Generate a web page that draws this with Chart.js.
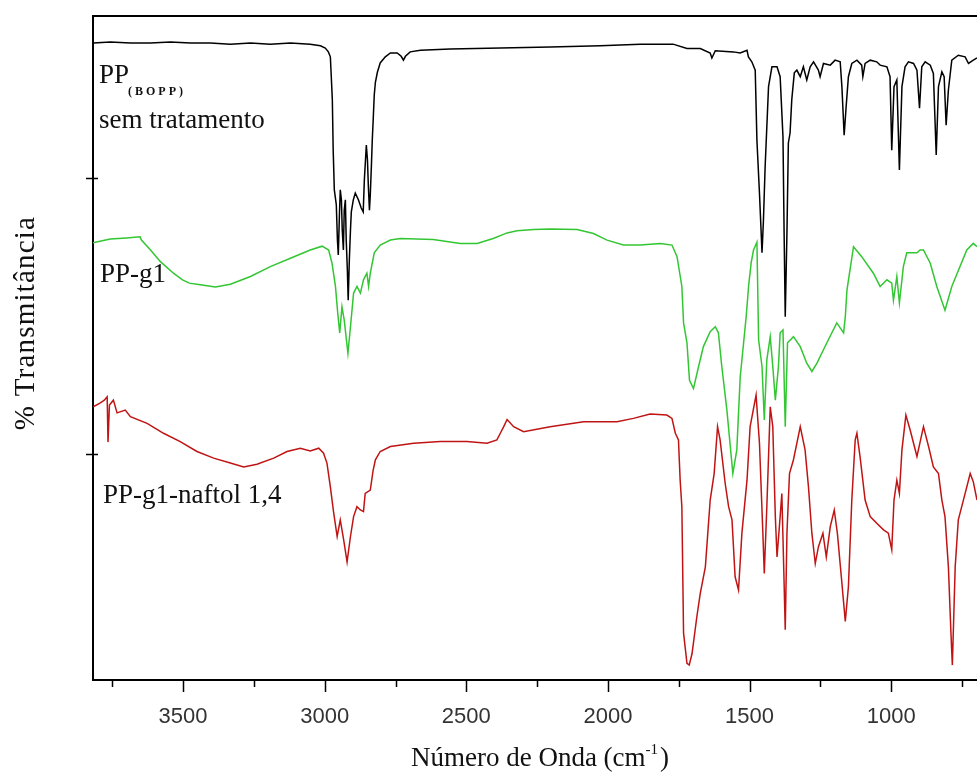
<!DOCTYPE html>
<html>
<head>
<meta charset="utf-8">
<title>Espectros FTIR - PP</title>
<script src="https://cdn.jsdelivr.net/npm/chart.js@4.4.1/dist/chart.umd.min.js"></script>
<style>
  html, body { margin: 0; padding: 0; background: #fff; }
  #wrap { width: 977px; height: 776px; }
</style>
</head>
<body>
<div id="wrap"><canvas id="irChart" width="977" height="776"></canvas></div>
<script>
// wavenumbers (cm-1) and % transmittance (arbitrary offset units)
const boppWave = [3817,3757,3686,3615,3545,3474,3404,3333,3262,3192,3121,3051,3015,2998,2987,2980,2977,2973,2970,2966,2959,2955,2952,2948,2945,2941,2938,2934,2931,2927,2924,2920,2917,2913,2909,2906,2899,2892,2881,2871,2864,2860,2853,2849,2846,2842,2839,2835,2832,2828,2825,2821,2814,2804,2786,2768,2744,2730,2722,2715,2698,2662,2557,2380,2204,2027,1886,1770,1721,1674,1639,1633,1621,1557,1533,1509,1504,1492,1480,1474,1465,1456,1451,1445,1433,1421,1403,1392,1382,1378,1374,1368,1363,1357,1351,1342,1333,1321,1310,1298,1286,1274,1257,1251,1239,1215,1198,1180,1174,1166,1159,1151,1139,1121,1104,1100,1092,1074,1051,1039,1015,1004,998,990,980,971,962,951,939,921,909,900,892,880,862,851,841,833,821,813,806,798,786,763,739,727,710,697];
const boppT = [115.4,115.6,115.4,115.4,115.6,115.4,115.4,115.2,115.4,115.2,115.4,115.2,114.9,114.5,113.8,112.9,109.6,105.1,96.0,88.8,86.1,79.7,77.0,84.2,88.8,87.0,81.5,77.9,85.1,87.0,79.7,74.3,68.8,76.1,81.5,84.8,87.0,88.2,87.0,85.5,84.8,90.6,96.9,94.2,89.7,85.1,87.9,93.3,97.8,102.4,106.0,108.3,110.1,111.8,112.9,113.6,113.6,113.0,112.3,113.0,113.8,114.1,114.3,114.5,114.7,114.9,115.2,115.2,114.4,114.4,113.6,112.7,114.0,113.8,113.6,114.1,112.9,112.0,110.5,97.8,88.2,77.4,83.3,93.0,107.5,111.1,111.1,109.3,98.4,81.0,65.8,81.0,97.3,99.1,105.1,110.0,110.5,109.3,111.1,108.7,111.1,112.0,110.5,109.3,111.7,111.4,112.3,112.0,107.5,98.7,103.9,109.3,111.7,112.3,111.4,109.3,111.7,112.3,112.0,111.4,111.1,109.3,96.0,107.5,108.7,92.4,107.5,111.1,112.0,111.7,110.5,103.6,111.1,112.0,111.4,109.9,95.1,107.5,110.2,109.3,100.5,106.9,112.3,113.2,112.9,111.7,112.3,112.7];

const g1Wave = [3818,3757,3700,3652,3647,3615,3580,3534,3502,3478,3439,3386,3333,3262,3192,3121,3051,3009,2986,2974,2962,2954,2947,2939,2931,2918,2909,2898,2886,2874,2863,2851,2845,2839,2825,2804,2768,2733,2617,2521,2462,2405,2356,2321,2263,2204,2109,2051,2003,1945,1886,1815,1774,1756,1739,1733,1721,1712,1698,1680,1663,1639,1621,1610,1598,1580,1559,1545,1533,1521,1512,1503,1494,1486,1474,1468,1456,1448,1439,1427,1418,1409,1398,1392,1382,1374,1366,1345,1321,1298,1280,1262,1227,1192,1168,1162,1156,1133,1104,1063,1039,1015,998,992,980,971,957,945,909,898,886,862,839,810,786,757,733,710,697];
const g1T = [79.2,79.9,80.1,80.3,79.7,77.9,75.8,73.7,72.5,71.9,71.6,71.2,71.7,73.1,74.9,76.4,77.9,78.6,77.9,75.5,71.3,66.5,62.9,67.6,65.2,59.2,64.0,70.1,71.3,70.1,72.5,73.7,71.3,73.7,77.4,78.8,79.7,80.0,79.8,79.1,79.1,80.0,81.0,81.4,81.6,81.7,81.6,80.9,79.7,78.8,78.8,79.1,78.8,76.7,71.3,64.7,61.1,54.3,52.8,56.8,60.4,63.1,64.0,62.9,56.8,48.9,37.4,41.7,54.9,61.1,65.8,71.6,75.7,77.9,79.3,61.6,56.8,47.1,58.0,62.2,56.8,50.7,56.8,62.9,63.4,45.9,61.1,62.2,60.4,57.4,55.9,57.4,61.1,64.7,62.9,65.8,70.7,78.5,76.7,73.7,71.3,72.5,71.9,68.8,73.1,68.3,74.9,77.4,77.4,77.9,77.9,75.5,71.3,67.0,71.3,74.9,77.9,79.1,78.5];

const naftolWave = [3817,3792,3778,3768,3765,3760,3746,3733,3704,3686,3627,3569,3510,3451,3392,3333,3286,3239,3180,3133,3086,3051,3021,3004,2992,2980,2968,2956,2945,2933,2921,2909,2898,2886,2874,2863,2857,2839,2829,2821,2804,2768,2686,2592,2498,2427,2392,2380,2368,2356,2333,2298,2204,2086,1968,1910,1851,1792,1774,1762,1751,1745,1739,1733,1721,1713,1703,1686,1674,1656,1639,1625,1613,1604,1586,1574,1562,1551,1539,1527,1509,1498,1477,1465,1453,1448,1439,1427,1418,1409,1403,1392,1386,1378,1374,1368,1359,1345,1321,1304,1292,1280,1268,1257,1241,1229,1215,1201,1190,1176,1162,1151,1139,1127,1121,1110,1092,1074,1051,1027,1010,998,990,980,971,962,948,933,909,886,868,851,833,821,810,798,789,784,774,763,745,721,710,697];
const naftolT = [49.5,50.2,50.7,51.3,43.1,49.8,50.7,48.4,48.9,47.7,46.5,44.7,43.2,41.4,40.2,39.3,38.6,39.1,40.2,41.4,42.0,41.5,42.0,41.1,39.3,35.0,30.2,26.0,29.0,25.4,21.4,26.0,29.6,31.4,30.8,30.5,33.8,34.4,38.0,39.9,41.4,42.3,42.9,43.2,43.2,42.9,43.5,44.7,45.9,47.2,45.9,45.0,45.9,46.8,46.8,47.4,48.2,48.0,47.4,44.7,43.5,36.2,31.4,8.5,3.0,2.7,4.8,11.5,15.7,20.5,32.6,37.4,45.9,43.5,35.6,31.4,29.0,18.7,16.3,26.6,36.2,45.9,51.6,42.9,26.6,19.3,31.4,49.5,45.9,29.6,22.3,29.6,33.8,17.5,9.1,26.6,37.4,39.9,45.9,41.7,35.0,26.6,21.1,24.1,26.6,22.3,27.8,30.8,26.6,18.7,10.6,16.9,32.6,43.5,44.7,40.5,32.6,29.6,28.4,27.2,26.6,23.6,32.6,36.2,33.8,41.7,48.0,45.3,40.5,45.9,42.3,38.6,37.4,32.6,29.6,20.5,8.5,2.7,20.5,29.0,32.6,37.4,35.9,32.6];

const xTickLabels = [3500, 3000, 2500, 2000, 1500, 1000];
const xMinorTicks = [3750, 3250, 2750, 2250, 1750, 1250, 750];
const yTicks = [41, 91];

function toPoints(wave, t) {
    return wave.map((w, i) => ({ x: w, y: t[i] }));
}

const serif = '"Liberation Serif", "Times New Roman", serif';

const decor = {
    id: 'decor',
    afterDraw(chart) {
        const { ctx, chartArea: a, scales: { x, y } } = chart;
        ctx.save();
        ctx.strokeStyle = '#000';
        ctx.lineWidth = 2;
        ctx.beginPath();
        ctx.moveTo(a.left - 1, a.top);
        ctx.lineTo(a.right, a.top);
        ctx.stroke();

        ctx.lineWidth = 1.5;
        ctx.beginPath();
        xTickLabels.forEach(v => {
            const px = Math.round(x.getPixelForValue(v)) + 0.5;
            ctx.moveTo(px, a.bottom);
            ctx.lineTo(px, a.bottom + 12);
        });
        xMinorTicks.forEach(v => {
            const px = Math.round(x.getPixelForValue(v)) + 0.5;
            ctx.moveTo(px, a.bottom);
            ctx.lineTo(px, a.bottom + 7);
        });
        yTicks.forEach(v => {
            const py = Math.round(y.getPixelForValue(v)) + 0.5;
            ctx.moveTo(a.left - 7, py);
            ctx.lineTo(a.left + 5, py);
        });
        ctx.stroke();

        // curve labels
        ctx.fillStyle = '#111';
        ctx.textBaseline = 'alphabetic';
        ctx.textAlign = 'left';
        ctx.font = '27px ' + serif;
        ctx.fillText('PP', 99, 83);
        ctx.fillText('sem tratamento', 99, 128);
        ctx.fillText('PP-g1', 100, 282);
        ctx.fillText('PP-g1-naftol 1,4', 103, 503);
        ctx.font = 'bold 12px ' + serif;
        ctx.letterSpacing = '3px';
        ctx.fillText('(BOPP)', 128, 95);

        // y title
        ctx.save();
        ctx.translate(34, 323);
        ctx.rotate(-Math.PI / 2);
        ctx.font = '29px ' + serif;
        ctx.letterSpacing = '1.2px';
        ctx.textAlign = 'center';
        ctx.fillText('% Transmitância', 0, 0);
        ctx.restore();

        // x title with superscript
        ctx.letterSpacing = '0px';
        ctx.font = '27px ' + serif;
        const main = 'Número de Onda (cm';
        const sup = '-1';
        const close = ')';
        const wMain = ctx.measureText(main).width;
        const wClose = ctx.measureText(close).width;
        ctx.font = '15px ' + serif;
        const wSup = ctx.measureText(sup).width;
        let sx = 540 - (wMain + wSup + wClose + 2) / 2;
        const base = 766;
        ctx.font = '27px ' + serif;
        ctx.fillText(main, sx, base);
        sx += wMain;
        ctx.font = '15px ' + serif;
        ctx.fillText(sup, sx, base - 12);
        sx += wSup + 2;
        ctx.font = '27px ' + serif;
        ctx.fillText(close, sx, base);
        ctx.restore();
    }
};

const ctx = document.getElementById('irChart').getContext('2d');
const chart = new Chart(ctx, {
    type: 'line',
    data: {
        datasets: [
            {
                label: 'PP(BOPP) sem tratamento',
                data: toPoints(boppWave, boppT),
                borderColor: '#000000',
                borderWidth: 1.5
            },
            {
                label: 'PP-g1',
                data: toPoints(g1Wave, g1T),
                borderColor: '#33c633',
                borderWidth: 1.5
            },
            {
                label: 'PP-g1-naftol 1,4',
                data: toPoints(naftolWave, naftolT),
                borderColor: '#c01414',
                borderWidth: 1.5
            }
        ]
    },
    options: {
        responsive: false,
        animation: false,
        layout: { padding: { top: 16, left: 0, right: 0, bottom: 0 } },
        elements: {
            point: { radius: 0 },
            line: { tension: 0 }
        },
        plugins: {
            legend: { display: false },
            tooltip: { enabled: false }
        },
        scales: {
            x: {
                type: 'linear',
                reverse: true,
                min: 697,
                max: 3818,
                grid: { display: false, drawTicks: false },
                border: { display: true, color: '#000', width: 2 },
                ticks: {
                    padding: 24,
                    color: '#333',
                    font: { family: '"Liberation Sans", Arial, sans-serif', size: 22 },
                    maxRotation: 0,
                    autoSkip: false,
                    includeBounds: false,
                    callback: v => String(v)
                },
                afterBuildTicks: s => { s.ticks = xTickLabels.map(v => ({ value: v })); },
                afterFit: s => { s.height = 96; }
            },
            y: {
                min: 0,
                max: 120.3,
                grid: { display: false, drawTicks: false },
                border: { display: true, color: '#000', width: 2 },
                ticks: { display: false },
                afterFit: s => { s.width = 93; }
            }
        }
    },
    plugins: [decor]
});
</script>
</body>
</html>
